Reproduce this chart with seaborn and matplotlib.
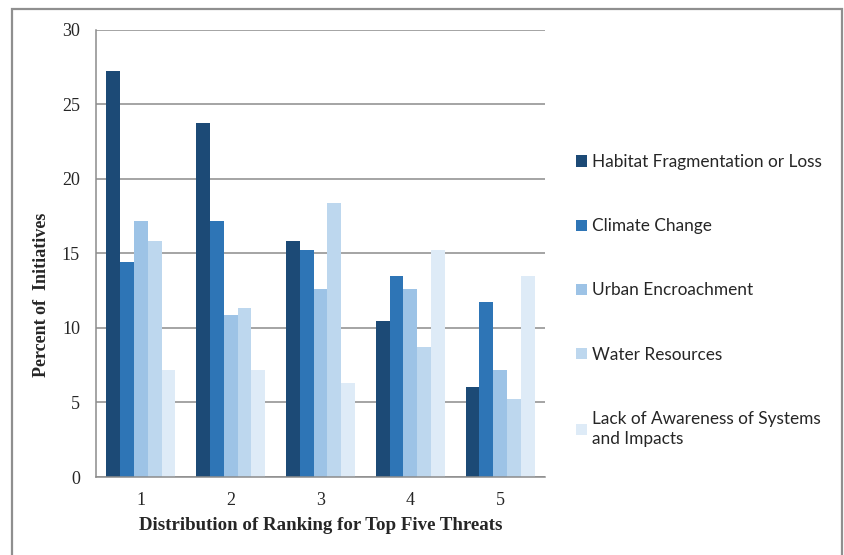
import matplotlib
matplotlib.use("Agg")
import matplotlib.pyplot as plt
import matplotlib.patches as mpatches
import seaborn as sns
import pandas as pd

rankings = ["1", "2", "3", "4", "5"]
series_names = [
    "Habitat Fragmentation or Loss",
    "Climate Change",
    "Urban Encroachment",
    "Water Resources",
    "Lack of Awareness of Systems\nand Impacts",
]
habitat = [27.25, 23.7, 15.8, 10.45, 6.05]
climate = [14.4, 17.15, 15.25, 13.5, 11.7]
urban = [17.15, 10.85, 12.6, 12.6, 7.2]
water = [15.8, 11.35, 18.4, 8.7, 5.2]
awareness = [7.2, 7.2, 6.3, 15.25, 13.5]
y_ticks = [0, 5, 10, 15, 20, 25, 30]
colors = ["#1c4a76", "#2e75b6", "#9dc3e6", "#bdd7ee", "#deebf7"]

values = [habitat, climate, urban, water, awareness]
rows = []
for name, vals in zip(series_names, values):
    for r, v in zip(rankings, vals):
        rows.append({"Ranking": r, "Threat": name, "Percent": v})
df = pd.DataFrame(rows)

sns.set_style("white")
serif = ["Liberation Serif", "DejaVu Serif"]

fig = plt.figure(figsize=(8.44, 5.55), dpi=100)
ax = fig.add_axes([96 / 844, 1 - 477 / 555, (545 - 96) / 844, (477 - 29.5) / 555])

sns.barplot(data=df, x="Ranking", y="Percent", hue="Threat", order=rankings,
            hue_order=series_names, palette=colors, saturation=1,
            width=0.77, gap=0, ax=ax, legend=True, linewidth=0)

ax.set_ylim(0, 30)
ax.set_xlim(-0.5, 4.5)
ax.set_yticks(y_ticks)
ax.set_yticklabels([str(t) for t in y_ticks], fontfamily=serif, fontsize=13)
ax.tick_params(axis="y", length=0, pad=11.5)
ax.yaxis.grid(True, color="#8c8c8c", linewidth=1.1)
ax.set_axisbelow(True)

ax.set_xticks([-0.5, 0.5, 1.5, 2.5, 3.5, 4.5])
ax.set_xticklabels([])
ax.set_xticks(range(5), minor=True)
ax.set_xticklabels(rankings, minor=True, fontfamily=serif, fontsize=13)
ax.tick_params(axis="x", which="major", length=4, width=1.1, color="#8c8c8c", direction="out")
ax.tick_params(axis="x", which="minor", length=0, pad=11)

for s in ["top", "right"]:
    ax.spines[s].set_visible(False)
for s in ["left", "bottom"]:
    ax.spines[s].set_color("#8c8c8c")
    ax.spines[s].set_linewidth(1.1)

ax.set_xlabel("Distribution of Ranking for Top Five Threats", fontfamily=serif,
              fontsize=13.6, fontweight="bold")
ax.set_ylabel("Percent of  Initiatives", fontfamily=serif, fontsize=13, fontweight="bold")
ax.xaxis.set_label_coords(0.5, (477 - 526) / 447.5)
ax.xaxis.label.set_va("center")
ax.yaxis.set_label_coords((41 - 96) / 449, (477 - 295) / 447.5)
ax.yaxis.label.set_va("center")

handles, labels = ax.get_legend_handles_labels()
ax.get_legend().remove()
leg = fig.legend(handles, labels, loc="upper left",
                 bbox_to_anchor=(576 / 844, 1 - 154 / 555), bbox_transform=fig.transFigure,
                 frameon=False, borderpad=0, borderaxespad=0,
                 handlelength=0.62, handleheight=0.62, handletextpad=0.28,
                 labelspacing=2.8, prop={"family": ["Lato", "DejaVu Sans"], "size": 12.4})
for t in leg.get_texts():
    t.set_linespacing(1.3)

border = mpatches.Rectangle((12 / 844, -0.1), (841.5 - 12) / 844, 1.1 - 9 / 555,
                            transform=fig.transFigure, fill=False,
                            edgecolor="#8f8f8f", linewidth=1.6, clip_on=False)
fig.patches.append(border)

fig.savefig("out.png", dpi=100)
